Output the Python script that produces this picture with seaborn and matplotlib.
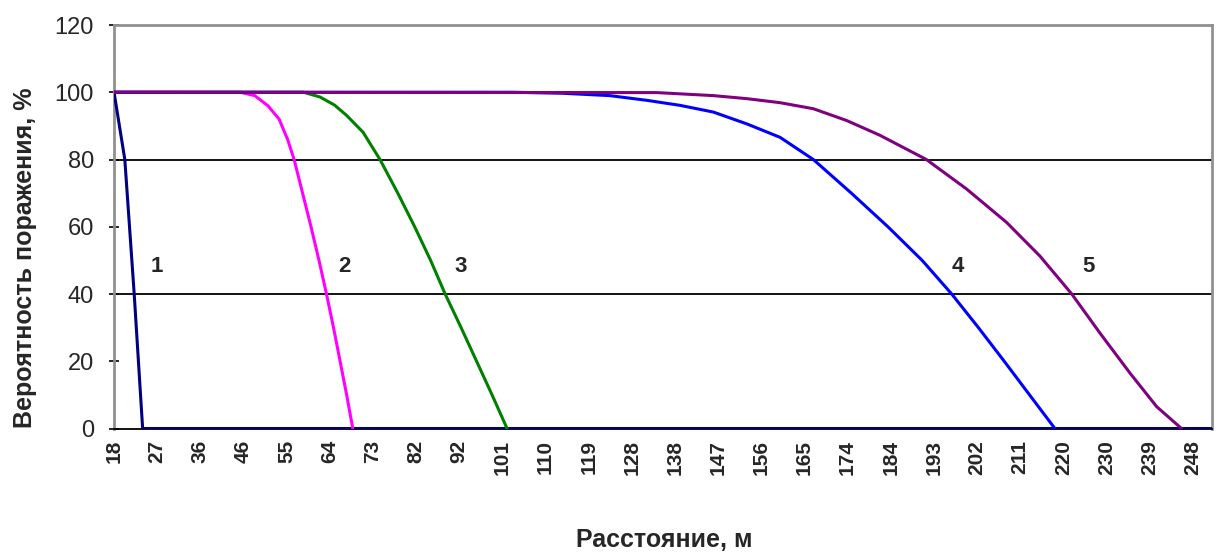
import numpy as np
import pandas as pd
import matplotlib
matplotlib.use("Agg")
import matplotlib.pyplot as plt
import seaborn as sns

# distance (m) / hit probability (%), one pair of lists per curve
dist_1 = [18, 20.3, 22.3, 24.1, 252]
prob_1 = [100, 80, 40, 0, 0]

dist_2 = [18, 44.9, 48.0, 50.8, 53.2, 55.0, 56.4, 58.2, 60.0, 61.7, 63.3, 64.8, 66.2, 67.6, 68.9]
prob_2 = [100, 100, 99, 96, 92, 86, 80, 70, 60, 50, 40, 30, 20, 10, 0]

dist_3 = [18, 58.4, 61.9, 65.0, 67.6, 71.1, 74.7, 78.5, 82.1, 85.5, 88.6, 92.0, 95.3, 98.6, 101.8]
prob_3 = [100, 100, 98.6, 96.2, 93.1, 88.1, 80, 70, 60, 50, 40, 30, 20, 10, 0]

dist_4 = [18, 103.1, 113.7, 123.7, 131.6, 138.7, 145.8, 152.9, 160.0, 167.1, 175.2,
          183.0, 190.3, 196.6, 202.3, 207.8, 213.2, 218.6]
prob_4 = [100, 100, 99.7, 99.0, 97.6, 96.1, 94.1, 90.6, 86.6, 80, 70,
          60, 50, 40, 30, 20, 10, 0]

dist_5 = [18, 133.7, 145.8, 152.9, 160.0, 167.1, 174.2, 181.3, 191.2, 199.8, 208.3,
          215.4, 222.2, 228.2, 234.6, 240.3, 245.6]
prob_5 = [100, 99.9, 99.0, 98.1, 96.9, 95.1, 91.6, 87.2, 80, 71.2, 61.3,
          51.3, 40, 28.4, 16.5, 6.5, 0]

curve_names = ["1", "2", "3", "4", "5"]
curve_colors = ["#000080", "#FF00FF", "#008000", "#0000FF", "#800080"]

# where the curve numbers sit
label_x = [27.2, 67.2, 91.8, 197.9, 225.8]
label_y = [48.2, 48.2, 48.2, 48.2, 48.2]

tick_labels = ["18", "27", "36", "46", "55", "64", "73", "82", "92", "101", "110",
               "119", "128", "138", "147", "156", "165", "174", "184", "193",
               "202", "211", "220", "230", "239", "248"]

all_dist = [dist_1, dist_2, dist_3, dist_4, dist_5]
all_prob = [prob_1, prob_2, prob_3, prob_4, prob_5]
frames = []
for name, d, p in zip(curve_names, all_dist, all_prob):
    frames.append(pd.DataFrame({"dist": d, "prob": p, "curve": name}))
df = pd.concat(frames, ignore_index=True)

sns.set_style("white")
plt.rcParams['font.family'] = ['Liberation Sans', 'DejaVu Sans']

fig, ax = plt.subplots(figsize=(12.17, 5.52), dpi=100)
fig.subplots_adjust(left=0.0937, right=0.9959, top=0.9547, bottom=0.2237)

# horizontal grid lines at 40 and 80
for yv in [40, 80]:
    ax.axhline(yv, color="black", lw=1.3, zorder=1)

sns.lineplot(data=df, x="dist", y="prob", hue="curve", hue_order=curve_names,
             palette=dict(zip(curve_names, curve_colors)), sort=False,
             estimator=None, lw=2.2, legend=False, ax=ax, zorder=3)

for name, lx, ly in zip(curve_names, label_x, label_y):
    ax.text(lx, ly, name, ha="center", va="center", fontsize=16, fontweight="bold")

ax.set_xlim(18, 252.1)
ax.set_ylim(0, 120)
ax.set_xticks(np.linspace(18, 248, len(tick_labels)))
ax.set_xticklabels(tick_labels, rotation=90, fontsize=15, fontweight="bold")
ax.set_yticks(range(0, 121, 20))
ax.tick_params(axis="y", labelsize=17, direction="inout", length=7, width=1.2,
               color="black", left=True, pad=11)
ax.tick_params(axis="x", length=0, pad=8)
ax.set_xlabel("")
ax.set_ylabel("")

for side in ["top", "right", "left"]:
    ax.spines[side].set_color("#909090")
    ax.spines[side].set_linewidth(2)
ax.spines["bottom"].set_color("black")
ax.spines["bottom"].set_linewidth(1.3)

fig.text(25 / 1217, 1 - 258 / 552, "Вероятность поражения, %", rotation=90,
         ha="center", va="center", fontsize=18, fontweight="bold")
fig.text(664 / 1217, 1 - 540 / 552, "Расстояние, м", ha="center", va="center",
         fontsize=18, fontweight="bold")

fig.savefig("out.png", dpi=100)
